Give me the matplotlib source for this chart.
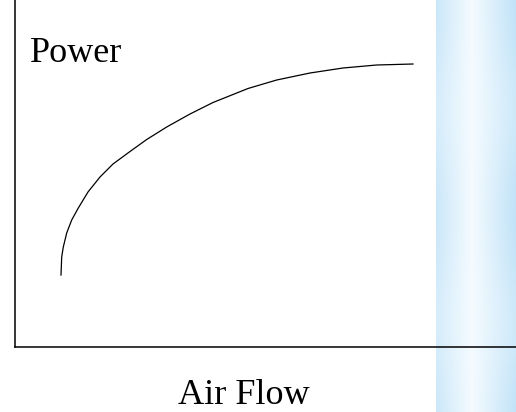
import numpy as np
import matplotlib
matplotlib.use("Agg")
import matplotlib.pyplot as plt

# curve (arbitrary units)
air_flow = [46, 46.7, 48.3, 51.7, 56.7, 63.3, 73, 85, 98, 115, 131.7, 151.7, 175, 198, 233, 261.7, 295, 328, 361.7, 398]
power = [72, 90, 100, 114, 127, 139, 155, 170, 183, 195.5, 207.5, 220, 233, 244.5, 258.5, 267, 274, 279, 282, 283]

W, H = 516, 412
fig = plt.figure(figsize=(W / 100, H / 100), dpi=100)

# light blue strip on the right (background decoration)
bg = fig.add_axes([436 / W, 0, 80 / W, 1], zorder=0)
xs = np.linspace(0, 1, 80)
ys = np.linspace(0, 1, 60)[:, None]
left = np.array([0.76, 0.89, 0.97])
mid = np.array([0.96, 0.985, 1.0])
t = np.clip(np.abs(xs - 0.45) / 0.55, 0, 1)[None, :, None]
t = t * (0.75 + 0.25 * np.cos(ys * 6)[:, :, None] ** 2)
img = mid + (left - mid) * t
bg.imshow(img, aspect="auto", extent=[0, 1, 0, 1])
bg.axis("off")

ax = fig.add_axes([15 / W, (H - 347) / H, 501 / W, 347 / H], zorder=1)
ax.patch.set_alpha(0)
ax.plot(air_flow, power, color="black", lw=0.9, solid_joinstyle="round")
ax.set_xlim(0, 501)
ax.set_ylim(0, 347)
ax.set_xticks([])
ax.set_yticks([])
for s in ["top", "right"]:
    ax.spines[s].set_visible(False)
for s in ["left", "bottom"]:
    ax.spines[s].set_linewidth(1.1)

fig.text(30 / W, 1 - 62 / H, "Power", family="Liberation Serif", fontsize=26, va="baseline", ha="left")
fig.text(244 / W, 1 - 404 / H, "Air Flow", family="Liberation Serif", fontsize=26, va="baseline", ha="center")

fig.savefig("out.png", dpi=100)
